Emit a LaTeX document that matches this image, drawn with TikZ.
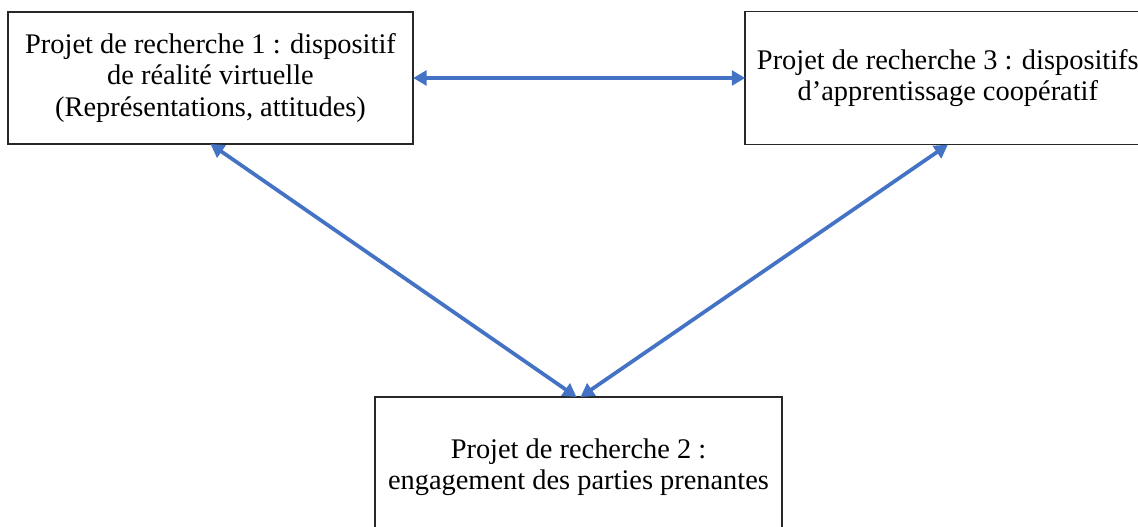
\documentclass[tikz,border=0pt]{standalone}
\usepackage{fontspec}
\setmainfont{Liberation Serif}
\usetikzlibrary{arrows.meta, positioning}
\definecolor{my_blue}{RGB}{68, 114, 196}
\definecolor{my_border}{RGB}{40, 40, 40}
\tikzset {
  projet/.style = {draw=my_border, line width=1.1pt, rectangle, fill=white, align=center, minimum width=304pt, minimum height=99pt, inner sep=0pt, outer sep=0pt, font=\fontsize{21.3}{23.3}\selectfont},
  line/.style = {{Triangle[length=10pt, width=11pt]}-{Triangle[length=10pt, width=11pt]}, line width=2.8pt, color=my_blue},
}

\begin{document}
\begin{tikzpicture}[x=0.75pt, y=-0.75pt]
    \clip (0,0) rectangle (1138,527);
    \fill[white] (0,0) rectangle (1138,527);

    \node[projet] (projet1) at (210.5,78) {Projet de recherche 1 : dispositif\\de réalité virtuelle\\(Représentations, attitudes)};
    \node[projet, minimum height=100pt, right=249pt of projet1] (projet3) {Projet de recherche 3 : dispositifs\\d’apprentissage coopératif};
    \node[projet, minimum width=305pt, minimum height=105pt] (projet2) at (578.5,467) {Projet de recherche 2 :\\engagement des parties prenantes};

    \draw[line] (projet1.east) -- (projet3.west);
    \draw[line] (projet1.south) -- ([xshift=-1.5pt]projet2.north);
    \draw[line] (projet3.south) -- ([xshift=1.5pt]projet2.north);

\end{tikzpicture}
\end{document}
